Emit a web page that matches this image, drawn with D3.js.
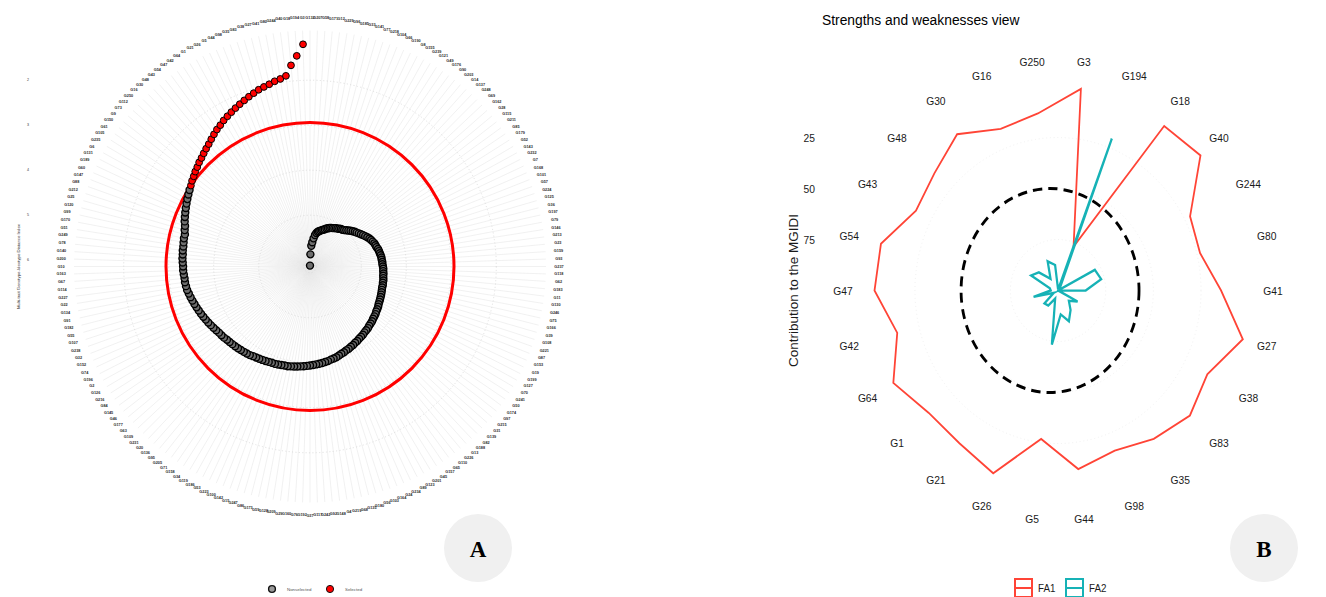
<!DOCTYPE html>
<html>
<head>
<meta charset="utf-8">
<script src="https://cdn.jsdelivr.net/npm/d3@7"></script>
<style>
  body { margin: 0; background: #fff; }
  svg { display: block; font-family: "Liberation Sans", Arial, sans-serif; }
</style>
</head>
<body>
<svg id="fig" width="1326" height="597"></svg>
<script>
// ---------- Panel A: genotypes ranked by MGIDI (worst first, best last) ----------
const genotypeOrder = ("G132 G207 G58 G171 G12 G229 G96 G185 G33 G141 G77 G218 G104 G66 G190 G8 G155 G239 G121 G49 " +
  "G176 G90 G203 G14 G137 G248 G69 G162 G28 G115 G211 G85 G179 G52 G143 G232 G7 G168 G101 G57 " +
  "G224 G125 G36 G197 G79 G146 G213 G23 G159 G93 G237 G118 G62 G183 G11 G130 G246 G75 G166 G39 " +
  "G108 G221 G87 G153 G19 G199 G127 G70 G241 G50 G174 G97 G215 G31 G139 G82 G188 G13 G226 G110 " +
  "G65 G157 G45 G201 G123 G89 G234 G24 G164 G103 G56 G180 G135 G68 G219 G4 G148 G92 G242 G117 " +
  "G37 G192 G76 G160 G29 G209 G128 G59 G173 G86 G247 G15 G142 G100 G223 G53 G186 G119 G34 G158 " +
  "G71 G205 G95 G136 G20 G231 G109 G63 G177 G46 G145 G84 G216 G126 G2 G196 G74 G152 G32 G238 " +
  "G107 G55 G182 G91 G134 G22 G227 G114 G67 G163 G10 G200 G140 G78 G249 G51 G170 G99 G120 G25 " +
  "G212 G88 G147 G60 G189 G131 G6 G235 G105 " +
  "G61 G150 G9 G73 G112 G250 G16 G30 G48 G43 G54 G47 G42 G64 G1 G21 G26 G5 G44 G98 " +
  "G35 G83 G38 G27 G41 G80 G244 G40 G18 G194 G3").split(" ");

const mgidiValues = [
  6.12,5.87,5.68,5.60,5.51,5.43,5.38,5.35,5.33,5.31,
  5.29,5.27,5.25,5.22,5.20,5.18,5.16,5.15,5.13,5.11,
  5.10,5.08,5.06,5.05,5.03,5.00,4.97,4.94,4.91,4.88,
  4.86,4.83,4.80,4.77,4.74,4.71,4.68,4.66,4.64,4.62,
  4.61,4.60,4.58,4.57,4.56,4.55,4.54,4.54,4.53,4.53,
  4.52,4.51,4.51,4.50,4.50,4.49,4.48,4.48,4.47,4.47,
  4.46,4.45,4.44,4.43,4.42,4.41,4.40,4.38,4.37,4.36,
  4.34,4.33,4.32,4.30,4.29,4.28,4.26,4.25,4.24,4.22,
  4.21,4.20,4.18,4.17,4.15,4.14,4.12,4.11,4.09,4.08,
  4.06,4.04,4.03,4.02,4.00,3.99,3.98,3.97,3.96,3.95,
  3.94,3.93,3.92,3.91,3.90,3.89,3.88,3.87,3.87,3.86,
  3.85,3.84,3.84,3.83,3.82,3.81,3.80,3.79,3.78,3.76,
  3.75,3.74,3.73,3.72,3.71,3.70,3.69,3.68,3.66,3.65,
  3.64,3.62,3.60,3.58,3.56,3.54,3.52,3.50,3.48,3.46,
  3.44,3.42,3.40,3.38,3.36,3.35,3.34,3.34,3.33,3.32,
  3.32,3.31,3.30,3.30,3.29,3.29,3.28,3.27,3.27,3.24,
  3.22,3.18,3.15,3.12,3.09,3.06,3.03,3.00,2.97,2.94,
  2.90,2.87,2.83,2.80,2.76,2.73,2.69,2.65,2.61,2.56,
  2.51,2.46,2.42,2.37,2.33,2.29,2.25,2.21,2.17,2.13,
  2.09,2.05,2.02,1.99,1.95,1.92,1.87,1.65,1.45,1.20
];
const mgidiCutoff = 2.94;          // MGIDI of the last selected genotype
const mgidiTicks = [2, 3, 4, 5, 6];
const legendA = ["Nonselected", "Selected"];

// ---------- Panel B: contribution of each factor to the MGIDI ----------
const genotypesB = ["G3","G194","G18","G40","G244","G80","G41","G27","G38","G83","G35","G98","G44",
                    "G5","G26","G21","G1","G64","G42","G47","G54","G43","G48","G30","G16","G250"];
const fa1 = [0.4,77.0,2.0,0.2,21.8,23.3,14.5,0.2,11.6,7.6,11.6,16.1,11.8,
             26.7,4.2,9.0,9.5,2.5,13.2,3.8,4.4,15.9,13.4,6.9,15.3,12.6];
const fa2 = [99.6,20.4,98.0,99.8,78.2,76.7,85.5,99.8,88.4,92.4,88.4,83.9,88.2,
             73.3,95.8,91.0,90.5,97.5,86.8,96.2,95.6,84.1,86.6,93.1,84.7,87.4];
const contribTicks = [25, 50, 75];
const expectedContribution = 50;   // 100 / number of factors
const factorNames = ["FA1", "FA2"];
const factorColors = ["#FF4436", "#16B2B6"];

const svg = d3.select("#fig");

// =============================== Panel A ===============================
const A = { cx: 310, cy: 266.5, labelR: 249 };
const N = mgidiValues.length;
const thetaA = d3.scaleBand().domain(d3.range(N)).range([0, 2 * Math.PI]);
const rA = d3.scaleLinear().domain([6.14, 1.2]).range([0, 222.3]);

const gA = svg.append("g").attr("transform", `translate(${A.cx},${A.cy})`);

// radial grid for every genotype (merges into a grey disc near the centre)
gA.append("g").selectAll("line").data(d3.range(N)).join("line")
  .attr("x1", 0).attr("y1", 0)
  .attr("x2", i => d3.pointRadial(thetaA(i), 236)[0])
  .attr("y2", i => d3.pointRadial(thetaA(i), 236)[1])
  .attr("stroke", "#e7e7e7").attr("stroke-width", 0.6);

// circular grid at the MGIDI ticks
gA.append("g").selectAll("circle").data(mgidiTicks).join("circle")
  .attr("r", d => rA(d)).attr("fill", "none")
  .attr("stroke", "#d6d6d6").attr("stroke-width", 0.7).attr("stroke-dasharray", "1.2,2.2");

// genotype names around the plot
gA.append("g").selectAll("text").data(d3.range(N)).join("text")
  .attr("x", i => d3.pointRadial(thetaA(i), A.labelR)[0])
  .attr("y", i => d3.pointRadial(thetaA(i), A.labelR)[1])
  .attr("text-anchor", "middle").attr("dominant-baseline", "central")
  .attr("font-size", 3.8).attr("font-weight", "bold").attr("fill", "#2a2a2a")
  .text(i => genotypeOrder[i]);

// selection cut-point
gA.append("circle").attr("r", rA(mgidiCutoff))
  .attr("fill", "none").attr("stroke", "#ff0000").attr("stroke-width", 3);

// genotypes
const ptsA = d3.range(N).map(i => ({ i, v: mgidiValues[i], sel: mgidiValues[i] <= mgidiCutoff }));
gA.append("g").selectAll("circle").data(ptsA).join("circle")
  .attr("cx", d => d3.pointRadial(thetaA(d.i), rA(d.v))[0])
  .attr("cy", d => d3.pointRadial(thetaA(d.i), rA(d.v))[1])
  .attr("r", d => d.sel ? 3.4 : 3.5)
  .attr("fill", d => d.sel ? "#ff0000" : "#6e6e6e")
  .attr("stroke", "#000").attr("stroke-width", d => d.sel ? 1.0 : 1.4);

// radial axis (left side)
svg.append("g").selectAll("text").data(mgidiTicks).join("text")
  .attr("x", 29).attr("y", d => A.cy - rA(d))
  .attr("text-anchor", "end").attr("dominant-baseline", "central")
  .attr("font-size", 3.6).attr("fill", "#333").text(d => d);
svg.append("text")
  .attr("transform", `translate(18,${A.cy}) rotate(-90)`)
  .attr("text-anchor", "middle").attr("dominant-baseline", "central")
  .attr("font-size", 4.3).attr("fill", "#333")
  .text("Multi-trait Genotype-Ideotype Distance Index");

// legend
const legA = svg.append("g").attr("transform", "translate(272,589)");
legA.append("circle").attr("cx", 0).attr("r", 3.4).attr("fill", "#9a9a9a").attr("stroke", "#111").attr("stroke-width", 1.4);
legA.append("text").attr("x", 15).attr("dominant-baseline", "central").attr("font-size", 4.4).attr("fill", "#555").text(legendA[0]);
legA.append("circle").attr("cx", 58).attr("r", 3.6).attr("fill", "#ff0000").attr("stroke", "#111").attr("stroke-width", 1);
legA.append("text").attr("x", 73).attr("dominant-baseline", "central").attr("font-size", 4.4).attr("fill", "#555").text(legendA[1]);

// =============================== Panel B ===============================
const B = { cx: 1058, cy: 290.5, sx: 0.935, labelR: 230 };
const thetaB = d3.scaleBand().domain(genotypesB).range([0, 2 * Math.PI]);
const angB = g => thetaB(g) + thetaB.bandwidth() / 2;
const rB = d3.scaleLinear().domain([100, 0]).range([0, 204]);

const gB = svg.append("g").attr("transform", `translate(${B.cx},${B.cy}) scale(${B.sx},1)`);

// faint grid
gB.append("g").selectAll("circle").data(contribTicks).join("circle")
  .attr("r", d => rB(d)).attr("fill", "none")
  .attr("stroke", "#ececec").attr("stroke-width", 0.8).attr("stroke-dasharray", "1,3");

// expected contribution (drawn slightly narrower and left of the polar centre)
gB.append("ellipse").attr("cx", -8.5).attr("cy", 0)
  .attr("rx", rB(expectedContribution) * 0.933).attr("ry", rB(expectedContribution))
  .attr("fill", "none").attr("stroke", "#000").attr("stroke-width", 3)
  .attr("stroke-dasharray", "10,6.5");

const radar = d3.lineRadial().curve(d3.curveLinearClosed);
[fa1, fa2].forEach((vals, k) => {
  gB.append("path")
    .attr("d", radar(genotypesB.map((g, j) => [angB(g), rB(vals[j])])))
    .attr("fill", "none").attr("stroke", factorColors[k])
    .attr("stroke-width", k === 0 ? 1.9 : 2.4).attr("stroke-linejoin", "miter");
});

gB.append("g").selectAll("text").data(genotypesB).join("text")
  .attr("x", g => d3.pointRadial(angB(g), B.labelR)[0])
  .attr("y", g => d3.pointRadial(angB(g), B.labelR)[1])
  .attr("text-anchor", "middle").attr("dominant-baseline", "central")
  .attr("font-size", 11).attr("fill", "#1a1a1a").text(g => g);

// radial axis
const axB = svg.append("g").attr("transform", `translate(815,0) scale(${B.sx},1)`);
axB.selectAll("text").data(contribTicks).join("text")
  .attr("x", 0).attr("y", d => B.cy - rB(d))
  .attr("text-anchor", "end").attr("dominant-baseline", "central")
  .attr("font-size", 11).attr("fill", "#1a1a1a").text(d => d);
axB.append("text")
  .attr("transform", `translate(${(794 - 815) / B.sx},${B.cy}) rotate(-90)`)
  .attr("text-anchor", "middle").attr("dominant-baseline", "central")
  .attr("font-size", 13.5).attr("fill", "#1a1a1a").text("Contribution to the MGIDI");

// title
svg.append("text").attr("transform", `translate(822,24.5) scale(${B.sx},1)`)
  .attr("font-size", 14.8).attr("fill", "#000").text("Strengths and weaknesses view");

// legend
factorNames.forEach((f, k) => {
  const x0 = 1015 + k * 51;
  const g = svg.append("g").attr("transform", `translate(${x0},579)`);
  g.append("rect").attr("x", 0).attr("y", 0).attr("width", 17).attr("height", 18)
    .attr("fill", "#fff").attr("stroke", factorColors[k]).attr("stroke-width", 2);
  g.append("line").attr("x1", 0).attr("x2", 17).attr("y1", 9).attr("y2", 9)
    .attr("stroke", factorColors[k]).attr("stroke-width", 2);
  g.append("text").attr("transform", `translate(23,9.5) scale(${B.sx},1)`)
    .attr("dominant-baseline", "central").attr("font-size", 10.5).attr("fill", "#1a1a1a").text(f);
});

// =============================== panel badges ===============================
[["A", 478], ["B", 1264]].forEach(([lab, x]) => {
  svg.append("circle").attr("cx", x).attr("cy", 548).attr("r", 34).attr("fill", "#f0f0f0");
  svg.append("text").attr("x", x).attr("y", 549).attr("text-anchor", "middle")
    .attr("dominant-baseline", "central")
    .attr("font-family", "'Liberation Serif','Times New Roman',serif")
    .attr("font-weight", "bold").attr("font-size", 23).attr("fill", "#000").text(lab);
});
</script>
</body>
</html>
